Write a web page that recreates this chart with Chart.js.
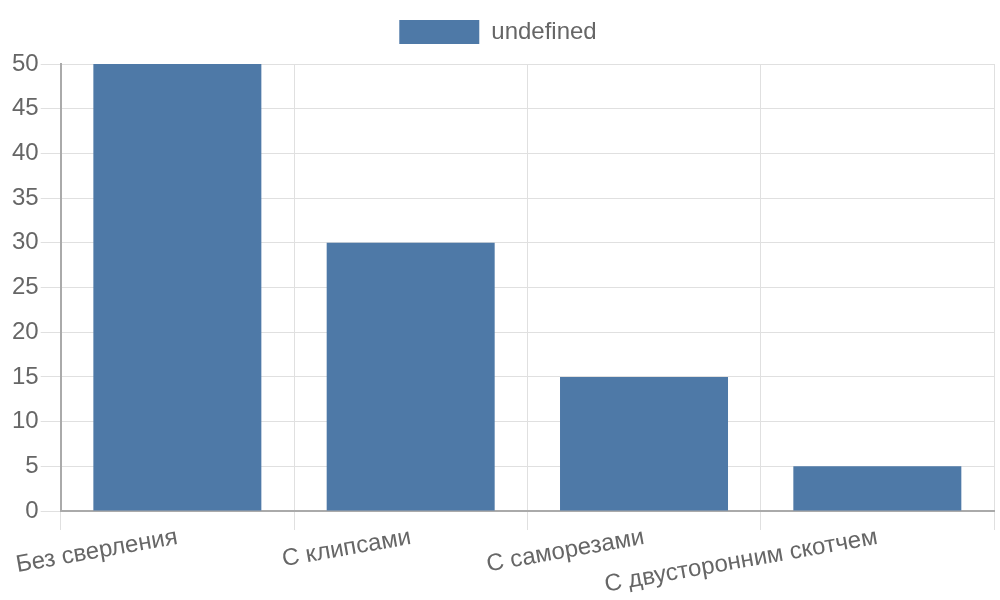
<!DOCTYPE html>
<html><head><meta charset="utf-8">
<script src="https://cdn.jsdelivr.net/npm/chart.js@4"></script>
<style>html,body{margin:0;padding:0;background:#fff}#wrap{width:1000px;height:600px}</style>
</head><body><div id="wrap"><canvas id="c"></canvas></div>
<script>
const categories = ["Без сверления", "С клипсами", "С саморезами", "С двусторонним скотчем"];
const values = [50, 30, 15, 5];
const seriesLabel = undefined;
const barColor = "#4e79a7";

Chart.defaults.font.family = "'Liberation Sans', Arial, sans-serif";
Chart.defaults.font.size = 24;
Chart.defaults.color = "#666";

const legendGap = {
  id: 'legendGap',
  beforeInit(chart) {
    const lg = chart.legend;
    if (!lg) return;
    const orig = lg.fit;
    lg.fit = function () { orig.call(this); this.height += 10; };
  },
  afterLayout(chart) {
    const lg = chart.legend;
    if (!lg) return;
    lg.left -= 4; lg.right -= 4;
  }
};

new Chart(document.getElementById('c'), {
  type: 'bar',
  data: {
    labels: categories,
    datasets: [{ label: String(seriesLabel), data: values, backgroundColor: barColor, borderWidth: 0 }]
  },
  plugins: [legendGap],
  options: {
    responsive: true, maintainAspectRatio: false, animation: false,
    layout: { padding: { left: 10, right: 6, top: 0, bottom: 0 } },
    plugins: {
      legend: { position: 'top', labels: { boxWidth: 80, boxHeight: 24, padding: 20 } },
      tooltip: { enabled: false }
    },
    scales: {
      x: {
        grid: { color: '#e0e0e0', tickLength: 19, offset: true },
        border: { color: '#aaa', width: 2 },
        ticks: { minRotation: 10, maxRotation: 10, padding: -7 },
        afterFit(scale) { scale.height = 89; }
      },
      y: {
        min: 0, max: 50,
        ticks: { stepSize: 5, padding: 2 },
        grid: { color: '#e0e0e0', tickLength: 20 },
        border: { color: '#aaa', width: 2 }
      }
    }
  }
});
</script></body></html>
